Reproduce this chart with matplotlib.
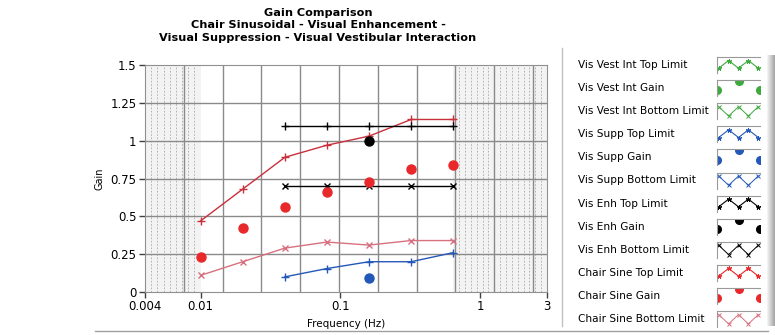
import matplotlib.pyplot as plt
import numpy as np

# data
freq = [0.01, 0.02, 0.04, 0.08, 0.16, 0.32, 0.64]
chair_top = [0.47, 0.68, 0.89, 0.97, 1.03, 1.14, 1.14]
chair_gain = [0.23, 0.42, 0.56, 0.66, 0.73, 0.81, 0.84]
chair_bot = [0.11, 0.20, 0.29, 0.33, 0.31, 0.34, 0.34]
enh_freq = [0.04, 0.08, 0.16, 0.32, 0.64]
enh_top = [1.1, 1.1, 1.1, 1.1, 1.1]
enh_bot = [0.7, 0.7, 0.7, 0.7, 0.7]
enh_gain_freq = [0.16]
enh_gain = [1.0]
supp_freq = [0.04, 0.08, 0.16, 0.32, 0.64]
supp_top = [0.10, 0.155, 0.20, 0.20, 0.26]
supp_gain_freq = [0.16]
supp_gain = [0.09]

xticks = [0.004, 0.01, 0.1, 1, 3]
xticklabels = ['0.004', '0.01', '0.1', '1', '3']
yticks = [0, 0.25, 0.5, 0.75, 1, 1.25, 1.5]
yticklabels = ['0', '0.25', '0.5', '0.75', '1', '1.25', '1.5']

legend_names = ['Vis Vest Int Top Limit', 'Vis Vest Int Gain', 'Vis Vest Int Bottom Limit',
                'Vis Supp Top Limit', 'Vis Supp Gain', 'Vis Supp Bottom Limit',
                'Vis Enh Top Limit', 'Vis Enh Gain', 'Vis Enh Bottom Limit',
                'Chair Sine Top Limit', 'Chair Sine Gain', 'Chair Sine Bottom Limit']

RED = '#c8303c'
RED_DOT = '#e8282a'
PINK = '#d87080'
BLUE = '#2458b8'
GREEN = '#3caa3c'

plt.rcParams['font.family'] = ['DejaVu Sans']
W, H = 775, 335
fig = plt.figure(figsize=(W / 100, H / 100), dpi=100)

def px_axes(x0, y0, x1, y1):
    return fig.add_axes([x0 / W, 1 - y1 / H, (x1 - x0) / W, (y1 - y0) / H])

ax = px_axes(145, 65, 547, 292)
ax.set_xscale('log')
ax.set_xlim(0.004, 3)
ax.set_ylim(0, 1.5)

# shaded (out of range) bands
for lo, hi in [(0.004, 0.01), (0.64, 3)]:
    ax.axvspan(lo, hi, color='#f3f3f3', zorder=0, lw=0)
    n = int(round(np.log10(hi / lo) / 0.04))
    for xv in np.geomspace(lo, hi, n)[1:-1]:
        ax.axvline(xv, color='#a8a8a8', lw=0.6, ls=(0, (2, 2)), zorder=0.5)

# grid
for k in range(1, 11):
    ax.axvline(0.004 * 10 ** (0.2775 * k), color='#8a8a8a', lw=1, zorder=1)
for yv in yticks[1:-1]:
    ax.axhline(yv, color='#8a8a8a', lw=1, zorder=1)

ax.plot(freq, chair_top, color=RED, lw=1, marker='+', ms=6, mew=1, zorder=3)
ax.plot(freq, chair_bot, color=PINK, lw=1, marker='x', ms=4, mew=1, zorder=3)
ax.plot(freq, chair_gain, ls='none', marker='o', color=RED_DOT, ms=6.5, zorder=4)
ax.plot(enh_freq, enh_top, color='black', lw=1, marker='+', ms=6, mew=1, zorder=3)
ax.plot(enh_freq, enh_bot, color='black', lw=1, marker='x', ms=4, mew=1, zorder=3)
ax.plot(enh_gain_freq, enh_gain, ls='none', marker='o', color='black', ms=6.5, zorder=4)
ax.plot(supp_freq, supp_top, color=BLUE, lw=1, marker='+', ms=6, mew=1, zorder=3)
ax.plot(supp_gain_freq, supp_gain, ls='none', marker='o', color=BLUE, ms=6.5, zorder=4)

ax.set_xticks(xticks)
ax.set_xticklabels(xticklabels)
ax.minorticks_off()
ax.set_yticks(yticks)
ax.set_yticklabels(yticklabels)
ax.tick_params(direction='out', length=4, width=1, color='#404040', labelsize=8.5, pad=2)
for s in ax.spines.values():
    s.set_color('#909090')
ax.set_xlabel('Frequency (Hz)', fontsize=7.5, labelpad=4)
ax.set_ylabel('Gain', fontsize=7, labelpad=4)

fig.text(318 / W, 1 - 8 / H,
         'Gain Comparison\nChair Sinusoidal - Visual Enhancement -\nVisual Suppression - Visual Vestibular Interaction',
         ha='center', va='top', fontsize=8.1, fontweight='bold', linespacing=1.3)

# legend panel
over = fig.add_axes([0, 0, 1, 1], zorder=-1)
over.set_xlim(0, W)
over.set_ylim(H, 0)
over.axis('off')
over.plot([562, 562], [48, 326], color='#c0c0c0', lw=1)
over.plot([95, 768], [331, 331], color='#a0a0a0', lw=1)
for i, c in enumerate(np.linspace(0.95, 0.65, 8)):
    over.axvspan(767 + i, 768 + i, ymin=(H - 326) / H, ymax=(H - 55) / H, color=str(c), lw=0)

colors = [GREEN] * 3 + [BLUE] * 3 + ['black'] * 3 + [RED_DOT] * 3
for i, name in enumerate(legend_names):
    yc = 65 + i * 23.1
    fig.text(578 / W, 1 - yc / H, name, fontsize=7.6, va='center', ha='left')
    sa = px_axes(717, yc - 8, 760, yc + 8)
    sa.set_xlim(0, 1)
    sa.set_ylim(0, 1)
    sa.set_xticks([])
    sa.set_yticks([])
    for s in ['right', 'bottom']:
        sa.spines[s].set_visible(False)
    for s in ['top', 'left']:
        sa.spines[s].set_color('#9a9a9a')
    col = colors[i]
    kind = i % 3
    if kind == 0:
        sa.plot([0.04, 0.27, 0.5, 0.73, 0.96], [0.3, 0.78, 0.3, 0.78, 0.3], color=col, lw=0.8,
                marker=(5, 2), ms=3.5, mew=0.7)
    elif kind == 1:
        sa.plot([0.0, 0.5, 1.0], [0.35, 0.95, 0.35], ls='none', marker='o', color=col, ms=5.5)
    else:
        lc = col if col != RED_DOT else PINK
        sa.plot([0.04, 0.27, 0.5, 0.73, 0.96], [0.78, 0.2, 0.78, 0.2, 0.78], color=lc, lw=0.7,
                marker='x', ms=2.8, mew=0.7)

fig.savefig('out.png', dpi=100)
